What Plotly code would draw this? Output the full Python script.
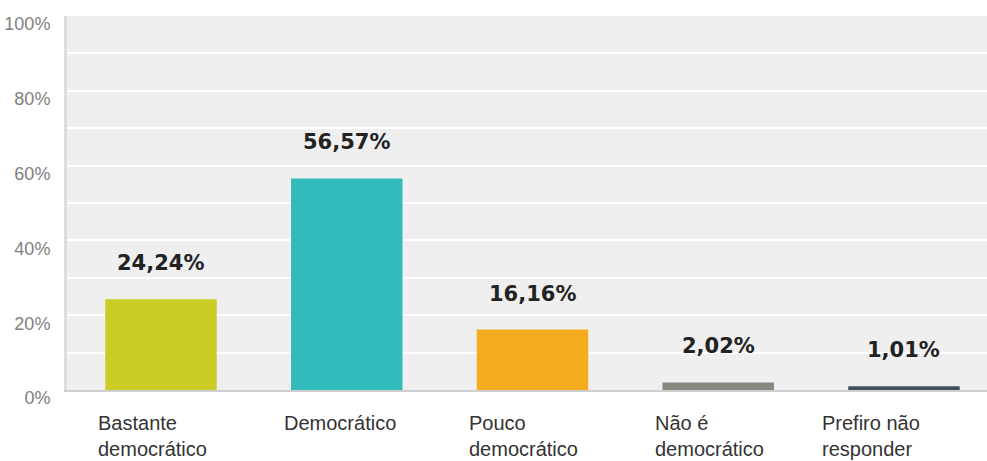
import plotly.graph_objects as go

# Survey answers and their shares (%)
categories = [
    "Bastante<br>democrático",
    "Democrático",
    "Pouco<br>democrático",
    "Não é<br>democrático",
    "Prefiro não<br>responder",
]
shares = [24.24, 56.57, 16.16, 2.02, 1.01]
bar_colors = ["#c9cd25", "#33bbbc", "#f5ac1f", "#878980", "#3d525c"]

y_ticks = list(range(0, 101, 10))
y_tick_text = [f"{t}%" if t % 20 == 0 else "" for t in y_ticks]

x_idx = list(range(len(categories)))

fig = go.Figure(
    go.Bar(
        x=x_idx,
        y=shares,
        width=0.6,
        marker=dict(color=bar_colors, line=dict(width=0)),
        hoverinfo="skip",
    )
)

annotations = []
for i, v in enumerate(shares):
    # value label above each bar, written with a decimal comma
    annotations.append(dict(
        x=i, y=v, xref="x", yref="y",
        text=f"{v:.2f}".replace(".", ",") + "%",
        showarrow=False, yanchor="middle", yshift=36,
        font=dict(family="DejaVu Sans", size=21, color="#222222", weight="bold"),
    ))

for i, name in enumerate(categories):
    # category names sit left-aligned just before each bar;
    # the last one is pulled left so it stays inside the canvas
    shift = -84 if i == len(categories) - 1 else -65
    annotations.append(dict(
        x=i, y=0, xref="x", yref="paper",
        text=name, showarrow=False,
        xanchor="left", yanchor="top", align="left",
        xshift=shift, yshift=-20,
        font=dict(family="Liberation Sans, Arial", size=20, color="#333333"),
    ))

fig.update_layout(
    width=987, height=461,
    margin=dict(l=67, r=0, t=16, b=71),
    paper_bgcolor="white",
    plot_bgcolor="#efefef",
    showlegend=False,
    annotations=annotations,
    xaxis=dict(
        range=[-0.506, 4.447],
        showticklabels=False, ticks="",
        showgrid=False, zeroline=False,
        showline=True, linecolor="#cfcfcf", linewidth=2,
        fixedrange=True,
    ),
    yaxis=dict(
        range=[0, 100],
        tickvals=y_ticks, ticktext=y_tick_text,
        ticklabelshift=8,
        ticklabelstandoff=10,
        tickfont=dict(family="Liberation Sans, Arial", size=18, color="#808080"),
        showgrid=True, gridcolor="#ffffff", gridwidth=2,
        zeroline=False, ticks="",
        showline=True, linecolor="#dddddd", linewidth=3,
        automargin=False,
        fixedrange=True,
    ),
)

fig.write_html("out.html")
